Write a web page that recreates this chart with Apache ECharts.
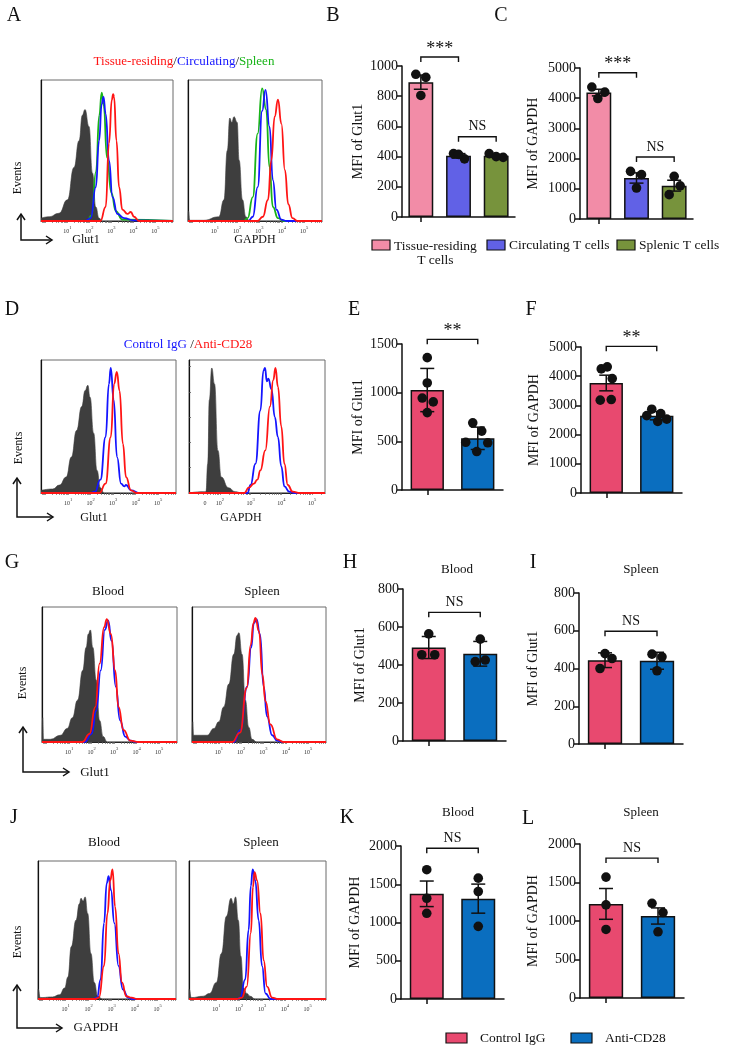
<!DOCTYPE html>
<html><head><meta charset="utf-8">
<script src="https://cdn.jsdelivr.net/npm/echarts@6/dist/echarts.min.js"></script>
<style>html,body{margin:0;padding:0;background:#fff}#c{width:732px;height:1050px}</style>
</head><body><div id="c"></div>
<script>
// ================= DATA =================
// Flow histograms: [log10 position, relative height]
const a1Gray = [[-0.2,0.02],[0.17,0.03],[0.62,0.055],[1.0,0.15],[1.3,0.38],[1.53,0.57],[1.68,0.75],[1.8,0.79],[1.98,0.67],[2.14,0.34],[2.29,0.10],[2.44,0.02],[2.6,0],[5.8,0]];
const a1Green = [[-0.2,0],[1.9,0],[2.1,0.04],[2.3,0.35],[2.45,0.75],[2.56,0.91],[2.65,0.82],[2.8,0.45],[3.0,0.2],[3.2,0.07],[3.5,0.01],[5.8,0]];
const a1Blue = [[-0.2,0],[1.8,0],[2.06,0.02],[2.29,0.24],[2.44,0.57],[2.56,0.83],[2.64,0.88],[2.74,0.76],[2.89,0.43],[3.05,0.17],[3.27,0.05],[3.58,0.02],[4.0,0.005],[5.8,0]];
const a1Red = [[-0.2,0],[2.5,0],[2.74,0.1],[2.89,0.55],[3.02,0.86],[3.08,0.9],[3.12,0.88],[3.23,0.57],[3.35,0.24],[3.5,0.08],[3.73,0.05],[3.88,0.064],[4.03,0.03],[4.26,0],[5.8,0]];

const a2Gray = [[-0.2,0],[-0.18,0.07],[-0.12,0.005],[0.5,0.005],[1.18,0.03],[1.41,0.15],[1.56,0.5],[1.67,0.73],[1.76,0.70],[1.86,0.74],[2.0,0.70],[2.09,0.43],[2.24,0.15],[2.39,0.03],[2.55,0],[5.8,0]];
const a2Green = [[-0.2,0],[2.3,0],[2.47,0.02],[2.7,0.17],[2.92,0.62],[3.12,0.94],[3.3,0.79],[3.45,0.38],[3.6,0.1],[3.83,0.02],[4.1,0],[5.8,0]];
const a2Blue = [[-0.2,0],[2.5,0],[2.7,0.03],[2.92,0.24],[3.12,0.78],[3.27,0.93],[3.45,0.67],[3.6,0.29],[3.76,0.08],[3.98,0.01],[4.2,0],[5.8,0]];
const a2Red = [[-0.2,0],[2.9,0],[3.15,0.03],[3.38,0.15],[3.53,0.43],[3.68,0.74],[3.83,0.86],[3.98,0.69],[4.14,0.36],[4.29,0.12],[4.48,0.02],[4.7,0],[5.8,0]];

const d1Gray = [[-0.2,0.02],[0.32,0.03],[0.62,0.06],[0.92,0.12],[1.15,0.27],[1.38,0.47],[1.61,0.65],[1.76,0.77],[1.88,0.81],[1.98,0.72],[2.14,0.45],[2.29,0.17],[2.44,0.04],[2.6,0],[5.8,0]];
const d1Blue = [[-0.2,0],[2.0,0],[2.2,0.01],[2.44,0.1],[2.67,0.42],[2.82,0.82],[2.9,0.94],[3.03,0.7],[3.18,0.27],[3.36,0.07],[3.5,0.05],[3.58,0.06],[3.8,0.02],[4.2,0],[5.8,0]];
const d1Red = [[-0.2,0],[2.4,0],[2.67,0.07],[2.9,0.42],[3.05,0.82],[3.17,0.91],[3.29,0.77],[3.44,0.37],[3.58,0.12],[3.8,0.02],[4.05,0],[5.8,0]];

const d2Gray = [[1.0,0],[1.45,0.01],[1.55,0.01],[1.61,0.22],[1.66,0.7],[1.74,0.94],[1.83,0.82],[1.94,0.32],[2.05,0.12],[2.28,0.04],[2.5,0.01],[2.72,0],[5.42,0]];
const d2Blue = [[1.0,0],[2.9,0],[3.0,0.06],[3.16,0.22],[3.32,0.62],[3.42,0.92],[3.47,0.94],[3.53,0.84],[3.58,0.86],[3.68,0.78],[3.79,0.57],[3.89,0.42],[4.0,0.2],[4.1,0.05],[4.26,0.01],[4.4,0],[5.42,0]];
const d2Red = [[1.0,0],[2.8,0],[2.94,0.04],[3.11,0.07],[3.22,0.1],[3.32,0.17],[3.48,0.32],[3.63,0.65],[3.74,0.85],[3.81,0.94],[3.89,0.8],[4.0,0.5],[4.1,0.22],[4.21,0.06],[4.37,0.01],[4.6,0],[5.42,0]];

const g1Gray = [[-0.2,0],[-0.17,0.18],[-0.13,0.02],[0.17,0.02],[0.62,0.05],[0.92,0.1],[1.15,0.18],[1.38,0.31],[1.61,0.53],[1.76,0.7],[1.86,0.8],[1.95,0.83],[2.06,0.7],[2.21,0.46],[2.36,0.16],[2.52,0.04],[2.7,0],[5.8,0]];
const g1Blue = [[-0.2,0],[1.7,0],[2.0,0.06],[2.21,0.23],[2.41,0.53],[2.59,0.83],[2.74,0.9],[2.89,0.75],[3.08,0.41],[3.27,0.16],[3.5,0.04],[3.73,0.01],[4.0,0],[5.8,0]];
const g1Red = [[-0.2,0],[1.6,0],[1.91,0.06],[2.17,0.26],[2.36,0.58],[2.56,0.85],[2.68,0.91],[2.86,0.8],[3.05,0.53],[3.2,0.26],[3.42,0.09],[3.73,0.01],[4.1,0],[5.8,0]];

const g2Gray = [[-0.2,0],[-0.17,0.15],[-0.13,0.05],[0.48,0.05],[0.78,0.1],[1.0,0.15],[1.22,0.26],[1.45,0.43],[1.67,0.65],[1.82,0.79],[1.9,0.81],[2.04,0.65],[2.19,0.31],[2.34,0.11],[2.49,0.02],[2.7,0],[5.8,0]];
const g2Blue = [[-0.2,0],[1.67,0],[1.97,0.09],[2.27,0.41],[2.45,0.7],[2.57,0.88],[2.69,0.91],[2.84,0.8],[3.01,0.41],[3.16,0.19],[3.39,0.05],[3.61,0.01],[3.9,0],[5.8,0]];
const g2Red = [[-0.2,0],[1.6,0],[1.95,0.07],[2.25,0.4],[2.43,0.72],[2.55,0.88],[2.64,0.92],[2.8,0.82],[2.95,0.5],[3.09,0.3],[3.31,0.13],[3.61,0.02],[3.9,0],[5.8,0]];

const j1Gray = [[-0.2,0],[-0.19,0.07],[-0.1,0.01],[0.43,0.015],[0.73,0.03],[0.96,0.08],[1.1,0.16],[1.25,0.38],[1.45,0.57],[1.6,0.69],[1.67,0.73],[1.76,0.71],[1.85,0.74],[1.96,0.62],[2.1,0.33],[2.25,0.12],[2.4,0.02],[2.6,0],[5.8,0]];
const j1Blue = [[-0.2,0],[2.2,0],[2.37,0.01],[2.52,0.14],[2.67,0.55],[2.79,0.84],[2.87,0.89],[2.97,0.79],[3.12,0.55],[3.3,0.24],[3.49,0.07],[3.72,0.01],[3.9,0],[5.8,0]];
const j1Red = [[-0.2,0],[2.3,0],[2.45,0.01],[2.67,0.24],[2.82,0.62],[2.94,0.86],[3.04,0.94],[3.15,0.67],[3.3,0.33],[3.45,0.12],[3.64,0.02],[3.87,0.01],[4.1,0],[5.8,0]];

const j2Gray = [[-0.2,0],[-0.19,0.07],[-0.1,0.01],[0.41,0.02],[0.7,0.04],[1.0,0.12],[1.22,0.33],[1.44,0.6],[1.64,0.73],[1.74,0.69],[1.84,0.74],[1.96,0.57],[2.07,0.31],[2.19,0.08],[2.33,0.04],[2.48,0.02],[2.7,0],[5.8,0]];
const j2Blue = [[-0.2,0],[1.9,0],[2.04,0.01],[2.26,0.14],[2.41,0.5],[2.51,0.82],[2.59,0.94],[2.7,0.86],[2.85,0.57],[3.0,0.24],[3.15,0.04],[3.37,0],[5.8,0]];
const j2Red = [[-0.2,0],[1.9,0],[2.11,0.01],[2.33,0.09],[2.51,0.48],[2.6,0.81],[2.67,0.92],[2.78,0.86],[2.93,0.62],[3.07,0.28],[3.22,0.09],[3.44,0.01],[3.7,0],[5.8,0]];

// histogram tick labels
const histTickVals = [1,2,3,4,5];
const histTickBase = ['10','10','10','10','10'];
const histTickExps = ['1','2','3','4','5'];
const d2TickVals = [1.52,2,3,4,5];
const d2TickBase = ['0','10','10','10','10'];
const d2TickExps = ['','2','3','4','5'];

// Bar chart categories
const groupsABC = ['Tissue-residing\nT cells','Circulating T cells','Splenic T cells'];
const groupsCD28 = ['Control IgG','Anti-CD28'];

// B: MFI of Glut1
const bMeans = [893,405,405];
const bErr = [47,15,10];
const bDots = [[945,925,805],[420,385,415],[420,395,400]];
const bJit = [[-5,5,0],[-5,6,0],[-7,7,0]];
const bSig = [[0,1,1060],[1,2,531]];
const bSigText = ['***','NS'];
// C: MFI of GAPDH
const cMeans = [4187,1358,1104];
const cErr = [110,170,180];
const cDots = [[4370,4200,3990],[1578,1468,1027],[1413,1100,806]];
const cJit = [[-7,6,-1],[-6,5,0],[0,6,-5]];
const cSig = [[0,1,4844],[1,2,2053]];
const cSigText = ['***','NS'];
// E: Glut1 (anti-CD28)
const eMeans = [1027,531];
const eErr = [222,115];
const eDots = [[1360,1100,945,905,795],[690,605,490,485,395]];
const eJit = [[0,0,-5,6,0],[-5,4,-12,10,-1]];
const eSig = [[0,1,1548]];
const eSigText = ['**'];
// F: GAPDH (anti-CD28)
const fMeans = [3767,2648];
const fErr = [268,143];
const fDots = [[4250,4320,3920,3180,3200],[2870,2720,2650,2450,2530]];
const fJit = [[-5,1,6,-6,5],[-5,4,-10,1,10]];
const fSig = [[0,1,5023]];
const fSigText = ['**'];
// H: Blood Glut1
const hMeans = [492,459];
const hErr = [58,65];
const hDots = [[564,454,454],[536,418,426]];
const hJit = [[0,-7,6],[0,-5,5]];
const hSig = [[0,1,677]];
const hSigText = ['NS'];
// I: Spleen Glut1
const iMeans = [444,441];
const iErr = [39,45];
const iDots = [[479,453,400],[476,462,388]];
const iJit = [[0,7,-5],[-5,5,0]];
const iSig = [[0,1,597]];
const iSigText = ['NS'];
// K: Blood GAPDH
const kMeans = [1375,1312];
const kErr = [167,190];
const kDots = [[1690,1317,1120],[1580,1405,950]];
const kJit = [[0,0,0],[0,0,0]];
const kSig = [[0,1,1970]];
const kSigText = ['NS'];
// L: Spleen GAPDH
const lMeans = [1222,1065];
const lErr = [200,105];
const lDots = [[1570,1210,890],[1230,1110,860]];
const lJit = [[0,0,0],[-6,5,0]];
const lSig = [[0,1,1817]];
const lSigText = ['NS'];

// ================= STYLE / LAYOUT =================
const FONT = "'Liberation Serif','Times New Roman',serif";
const colorsABC = ['#F28CA7','#6161E6','#77933C'];
const colorsCD28 = ['#E8496F','#0A6EBF'];
const HRED = '#FF1414', HBLUE = '#1414FF', HGREEN = '#18B418', HGRAY = '#3E3E3E';

const grids = [], xAxes = [], yAxes = [], series = [], graphics = [];

function minorTicks(lo, hi) {
  const out = [];
  for (let d = -1; d <= 6; d++) for (let m = 1; m <= 9; m++) {
    const v = d + Math.log10(m);
    if (v > lo + 0.02 && v < hi - 0.02) out.push(v);
  }
  return out;
}

function addHist(rect, xr, labVals, labBase, labExps, curves, yTicks) {
  const k = grids.length;
  grids.push({left: rect[0], top: rect[1], width: rect[2], height: rect[3], show: true, borderColor: '#6a6a6a', borderWidth: 1});
  xAxes.push({
    gridIndex: k, type: 'value', min: xr[0], max: xr[1],
    axisLine: {show: true, onZero: false, lineStyle: {color: '#222', width: 1}},
    axisTick: {show: true, customValues: minorTicks(xr[0], xr[1]), length: 2, lineStyle: {color: '#666', width: 0.7}},
    axisLabel: {
      show: true, customValues: labVals, margin: 4,
      formatter: function (v) {
        let i = 0, best = 1e9;
        labVals.forEach((lv, j) => { if (Math.abs(lv - v) < best) { best = Math.abs(lv - v); i = j; } });
        return '{b|' + labBase[i] + '}' + (labExps[i] ? '{s|' + labExps[i] + '}' : '');
      },
      rich: {
        b: {fontSize: 6, fontFamily: FONT, color: '#333', lineHeight: 9, verticalAlign: 'bottom'},
        s: {fontSize: 4.5, fontFamily: FONT, color: '#333', lineHeight: 9, verticalAlign: 'top'}
      }
    },
    splitLine: {show: false}
  });
  yAxes.push({
    gridIndex: k, type: 'value', min: 0, max: 1,
    axisLine: {show: true, onZero: false, lineStyle: {color: '#111', width: 1.2}},
    axisTick: yTicks ? {show: true, inside: true, customValues: yTicks, length: 2, lineStyle: {color: '#555', width: 0.8}} : {show: false},
    axisLabel: {show: false}, splitLine: {show: false}
  });
  curves.forEach((c, n) => {
    series.push({
      type: 'line', xAxisIndex: k, yAxisIndex: k, data: c[0], smooth: 0.5, smoothMonotone: 'x',
      showSymbol: false, silent: true, animation: false, z: 2 + n,
      lineStyle: {color: c[1], width: c[2] ? 0.6 : 1.8},
      areaStyle: c[2] ? {color: c[1], opacity: 1} : undefined
    });
  });
}

function addBar(o) {
  const k = grids.length;
  grids.push({left: o.rect[0], top: o.rect[1], width: o.rect[2], height: o.rect[3]});
  xAxes.push({
    gridIndex: k, type: 'category', data: o.cats, boundaryGap: true,
    axisLine: {show: true, lineStyle: {color: '#111', width: 1.5}},
    axisTick: {show: true, alignWithLabel: true, length: 5, lineStyle: {color: '#111', width: 1.5}},
    axisLabel: {show: false}, splitLine: {show: false}
  });
  yAxes.push({
    gridIndex: k, type: 'value', min: 0, max: o.max, interval: o.step,
    name: o.yName, nameLocation: 'middle', nameGap: o.gap,
    nameTextStyle: {fontFamily: FONT, fontSize: 14, color: '#111'},
    axisLine: {show: true, lineStyle: {color: '#111', width: 1.5}},
    axisTick: {show: true, length: 5, lineStyle: {color: '#111', width: 1.5}},
    axisLabel: {fontFamily: FONT, fontSize: 14, color: '#111', margin: 4, formatter: v => String(v)},
    splitLine: {show: false}
  });
  series.push({
    type: 'bar', xAxisIndex: k, yAxisIndex: k, barWidth: '66%', silent: true, z: 2,
    itemStyle: {borderColor: '#111', borderWidth: 1.5},
    data: o.means.map((m, i) => ({value: m, itemStyle: {color: o.colors[i], borderColor: '#111', borderWidth: 1.5}}))
  });
  // error bars
  series.push({
    type: 'custom', xAxisIndex: k, yAxisIndex: k, silent: true, z: 3, clip: false,
    encode: {x: 0, y: [1, 2]},
    data: o.means.map((m, i) => [i, m - o.errs[i], m + o.errs[i]]),
    renderItem: function (params, api) {
      const lo = api.coord([api.value(0), api.value(1)]);
      const hi = api.coord([api.value(0), api.value(2)]);
      const w = 7;
      return {type: 'group', children: [
        {type: 'line', shape: {x1: lo[0], y1: lo[1], x2: hi[0], y2: hi[1]}, style: {stroke: '#111', lineWidth: 1.5}},
        {type: 'line', shape: {x1: lo[0] - w, y1: lo[1], x2: lo[0] + w, y2: lo[1]}, style: {stroke: '#111', lineWidth: 1.5}},
        {type: 'line', shape: {x1: hi[0] - w, y1: hi[1], x2: hi[0] + w, y2: hi[1]}, style: {stroke: '#111', lineWidth: 1.5}}
      ]};
    }
  });
  // dots
  const dd = [];
  o.dots.forEach((arr, i) => arr.forEach((v, j) => dd.push([i, v, o.jit[i][j]])));
  series.push({
    type: 'custom', xAxisIndex: k, yAxisIndex: k, silent: true, z: 4, clip: false,
    encode: {x: 0, y: 1}, data: dd,
    renderItem: function (params, api) {
      const p = api.coord([api.value(0), api.value(1)]);
      return {type: 'circle', shape: {cx: p[0] + api.value(2), cy: p[1], r: 4.8}, style: {fill: '#111'}};
    }
  });
  // significance brackets
  series.push({
    type: 'custom', xAxisIndex: k, yAxisIndex: k, silent: true, z: 5, clip: false,
    encode: {x: [0, 1], y: 2}, data: o.sig,
    renderItem: function (params, api) {
      const a = api.coord([api.value(0), api.value(2)]);
      const b = api.coord([api.value(1), api.value(2)]);
      const txt = o.sigText[params.dataIndex];
      const star = txt.indexOf('*') >= 0;
      return {type: 'group', children: [
        {type: 'polyline', shape: {points: [[a[0], a[1] + 5], [a[0], a[1]], [b[0], a[1]], [b[0], a[1] + 5]]}, style: {stroke: '#111', lineWidth: 1.4, fill: null}},
        {type: 'text', x: (a[0] + b[0]) / 2, y: a[1] - (star ? -1 : 3),
         style: {text: txt, fontFamily: FONT, fontSize: star ? 18 : 14, fill: '#111', align: 'center', verticalAlign: 'bottom'}}
      ]};
    }
  });
}

// ---- histograms ----
const HX = [-0.2, 5.8];
addHist([41, 80, 132, 141], HX, histTickVals, histTickBase, histTickExps,
  [[a1Gray, HGRAY, true], [a1Green, HGREEN], [a1Blue, HBLUE], [a1Red, HRED]]);
addHist([188, 80, 134, 141], HX, histTickVals, histTickBase, histTickExps,
  [[a2Gray, HGRAY, true], [a2Green, HGREEN], [a2Blue, HBLUE], [a2Red, HRED]]);
addHist([41, 360, 135, 133], HX, histTickVals, histTickBase, histTickExps,
  [[d1Gray, HGRAY, true], [d1Blue, HBLUE], [d1Red, HRED]]);
addHist([189, 360, 136, 133], [1.0, 5.42], d2TickVals, d2TickBase, d2TickExps,
  [[d2Gray, HGRAY, true], [d2Blue, HBLUE], [d2Red, HRED]], [0.19, 0.38, 0.57, 0.76, 0.95]);
addHist([42, 607, 135, 135], HX, histTickVals, histTickBase, histTickExps,
  [[g1Gray, HGRAY, true], [g1Blue, HBLUE], [g1Red, HRED]]);
addHist([192, 607, 134, 135], HX, histTickVals, histTickBase, histTickExps,
  [[g2Gray, HGRAY, true], [g2Blue, HBLUE], [g2Red, HRED]]);
addHist([38, 861, 138, 138], HX, histTickVals, histTickBase, histTickExps,
  [[j1Gray, HGRAY, true], [j1Blue, HBLUE], [j1Red, HRED]]);
addHist([189, 861, 137, 138], HX, histTickVals, histTickBase, histTickExps,
  [[j2Gray, HGRAY, true], [j2Blue, HBLUE], [j2Red, HRED]]);

// ---- bar charts ----
addBar({rect: [402, 66, 113, 151], cats: groupsABC, means: bMeans, errs: bErr, dots: bDots, jit: bJit, sig: bSig, sigText: bSigText, colors: colorsABC, max: 1000, step: 200, yName: 'MFI of Glut1', gap: 37});
addBar({rect: [580, 68, 113, 151], cats: groupsABC, means: cMeans, errs: cErr, dots: cDots, jit: cJit, sig: cSig, sigText: cSigText, colors: colorsABC, max: 5000, step: 1000, yName: 'MFI of GAPDH', gap: 40});
addBar({rect: [402, 344, 101, 146], cats: groupsCD28, means: eMeans, errs: eErr, dots: eDots, jit: eJit, sig: eSig, sigText: eSigText, colors: colorsCD28, max: 1500, step: 500, yName: 'MFI of Glut1', gap: 37});
addBar({rect: [581, 347, 101, 146], cats: groupsCD28, means: fMeans, errs: fErr, dots: fDots, jit: fJit, sig: fSig, sigText: fSigText, colors: colorsCD28, max: 5000, step: 1000, yName: 'MFI of GAPDH', gap: 40});
addBar({rect: [403, 589, 103, 152], cats: groupsCD28, means: hMeans, errs: hErr, dots: hDots, jit: hJit, sig: hSig, sigText: hSigText, colors: colorsCD28, max: 800, step: 200, yName: 'MFI of Glut1', gap: 36});
addBar({rect: [579, 593, 104, 151], cats: groupsCD28, means: iMeans, errs: iErr, dots: iDots, jit: iJit, sig: iSig, sigText: iSigText, colors: colorsCD28, max: 800, step: 200, yName: 'MFI of Glut1', gap: 39});
addBar({rect: [401, 846, 103, 153], cats: groupsCD28, means: kMeans, errs: kErr, dots: kDots, jit: kJit, sig: kSig, sigText: kSigText, colors: colorsCD28, max: 2000, step: 500, yName: 'MFI of GAPDH', gap: 39});
addBar({rect: [580, 844, 104, 154], cats: groupsCD28, means: lMeans, errs: lErr, dots: lDots, jit: lJit, sig: lSig, sigText: lSigText, colors: colorsCD28, max: 2000, step: 500, yName: 'MFI of GAPDH', gap: 40});

// ---- text & decorations ----
function txt(x, y, s, size, opts) {
  opts = opts || {};
  graphics.push({
    type: 'text', x: x, y: y, rotation: opts.rot || 0, silent: true,
    style: Object.assign({text: s, fontFamily: FONT, fontSize: size, fill: opts.fill || '#111',
      align: opts.align || 'center', verticalAlign: opts.va || 'middle'}, opts.rich ? {rich: opts.rich} : {})
  });
}
// panel letters
[['A',14,16],['B',333,16],['C',501,16],['D',12,310],['E',354,310],['F',531,310],
 ['G',12,563],['H',350,563],['I',533,563],['J',14,818],['K',347,818],['L',528,819]]
  .forEach(p => txt(p[1], p[2], p[0], 20));

// histogram titles
txt(184, 62, '{r|Tissue-residing}/{b|Circulating}/{g|Spleen}', 13, {rich: {
  r: {fill: HRED, fontFamily: FONT, fontSize: 13}, b: {fill: HBLUE, fontFamily: FONT, fontSize: 13}, g: {fill: HGREEN, fontFamily: FONT, fontSize: 13}}});
txt(188, 345, '{b|Control IgG }/{r|Anti-CD28}', 13, {rich: {
  r: {fill: HRED, fontFamily: FONT, fontSize: 13}, b: {fill: HBLUE, fontFamily: FONT, fontSize: 13}}});
txt(108, 592, 'Blood', 13); txt(262, 592, 'Spleen', 13);
txt(104, 843, 'Blood', 13); txt(261, 843, 'Spleen', 13);
txt(457, 570, 'Blood', 13); txt(641, 570, 'Spleen', 13);
txt(458, 813, 'Blood', 13); txt(641, 813, 'Spleen', 13);

// "Events" + arrows
function axisArrows(x, tipY, cornerY, tipX) {
  const st = {stroke: '#111', lineWidth: 1.5, fill: null};
  graphics.push({type: 'polyline', silent: true, shape: {points: [[x, tipY], [x, cornerY], [tipX, cornerY]]}, style: st});
  graphics.push({type: 'polyline', silent: true, shape: {points: [[x - 4, tipY + 6], [x, tipY], [x + 4, tipY + 6]]}, style: st});
  graphics.push({type: 'polyline', silent: true, shape: {points: [[tipX - 6, cornerY - 4], [tipX, cornerY], [tipX - 6, cornerY + 4]]}, style: st});
}
txt(18, 178, 'Events', 12, {rot: Math.PI / 2});
axisArrows(21, 214, 240, 52);
txt(86, 240, 'Glut1', 12); txt(255, 240, 'GAPDH', 12);

txt(19, 448, 'Events', 12, {rot: Math.PI / 2});
axisArrows(17, 478, 517, 53);
txt(94, 518, 'Glut1', 12); txt(241, 518, 'GAPDH', 12);

txt(23, 683, 'Events', 12, {rot: Math.PI / 2});
axisArrows(23, 727, 772, 69);
txt(95, 773, 'Glut1', 13);

txt(18, 942, 'Events', 12, {rot: Math.PI / 2});
axisArrows(17, 985, 1028, 62);
txt(96, 1028, 'GAPDH', 13);

// Legend for B/C
(function () {
  const ctx = document.createElement('canvas').getContext('2d');
  ctx.font = '13.5px "Liberation Serif"';
  const boxX = [372, 487, 617];
  groupsABC.forEach((g, i) => {
    graphics.push({type: 'rect', silent: true, shape: {x: boxX[i], y: 240, width: 18, height: 10},
      style: {fill: colorsABC[i], stroke: '#111', lineWidth: 1.2}});
    const lines = g.split('\n');
    const w = ctx.measureText(lines[0]).width;
    txt(boxX[i] + 22 + w / 2, 245 + (lines.length > 1 ? 8.5 : 0), g, 13.5, {});
  });
  // bottom legend
  const bx = [446, 571];
  groupsCD28.forEach((g, i) => {
    graphics.push({type: 'rect', silent: true, shape: {x: bx[i], y: 1033, width: 21, height: 10},
      style: {fill: colorsCD28[i], stroke: '#111', lineWidth: 1.2}});
    txt(bx[i] + 34, 1038, g, 13.5, {align: 'left'});
  });
})();

const chart = echarts.init(document.getElementById('c'), null, {renderer: 'canvas'});
chart.setOption({
  animation: false,
  backgroundColor: '#fff',
  grid: grids, xAxis: xAxes, yAxis: yAxes, series: series,
  graphic: {elements: graphics}
});
</script></body></html>
